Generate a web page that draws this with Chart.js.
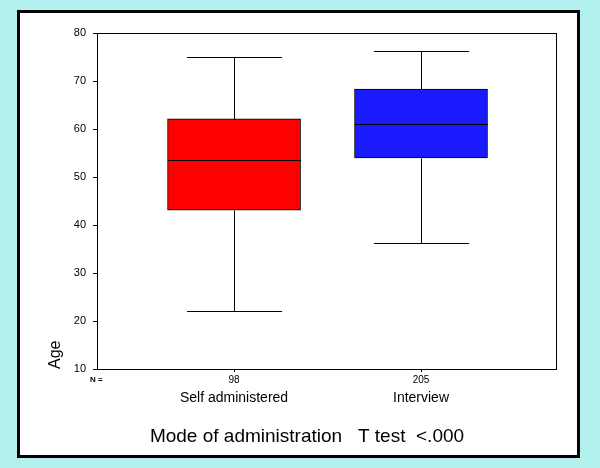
<!DOCTYPE html>
<html>
<head>
<meta charset="utf-8">
<script src="https://cdn.jsdelivr.net/npm/chart.js@4"></script>
<style>
  html, body { margin: 0; padding: 0; width: 600px; height: 468px; overflow: hidden; background: #b3f1ef; }
  #panel { position: absolute; left: 17px; top: 10px; width: 557px; height: 442px; border: 3px solid #000; background: #fff; }
  canvas { display: block; }
</style>
</head>
<body>
<div id="panel"><canvas id="chart" width="557" height="442"></canvas></div>
<script>
/* ── Box plot: age by mode of administration ── */

// ── Data ───────────────────────────────────────────────────────────────────
const groups      = ["Self administered", "Interview"];
const nLabels     = ["98", "205"];
const positions   = [1, 2];
const whiskerLow  = [22, 36.2];
const q1          = [43.1, 54];
const median      = [53.5, 61];
const q3          = [62.1, 68.3];
const whiskerHigh = [75, 76.2];
const yTicks      = [10, 20, 30, 40, 50, 60, 70, 80];
const boxColors   = ["#ff0000", "#1a1aff"];

const FONT = "'Liberation Sans', Arial, sans-serif";
Chart.defaults.font.family = FONT;
Chart.defaults.color = "#000";

// ── Whiskers, medians, frame and extra text ────────────────────────────────
const boxExtras = {
  id: "boxExtras",
  afterDatasetsDraw(chart) {
    const { ctx, chartArea: a, scales: { x, y } } = chart;
    const px = (v) => Math.round(y.getPixelForValue(v)) + 0.5;
    const seg = (x1, y1, x2, y2) => {
      ctx.beginPath(); ctx.moveTo(x1, y1); ctx.lineTo(x2, y2); ctx.stroke();
    };
    ctx.save();
    ctx.strokeStyle = "#000";
    ctx.lineWidth = 1;
    positions.forEach((p, i) => {
      const cx = Math.round(x.getPixelForValue(p)) + 0.5;
      const halfBox = 66.5, halfCap = 47.5;
      seg(cx, px(whiskerHigh[i]), cx, px(q3[i]));
      seg(cx, px(q1[i]), cx, px(whiskerLow[i]));
      seg(cx - halfCap, px(whiskerHigh[i]), cx + halfCap, px(whiskerHigh[i]));
      seg(cx - halfCap, px(whiskerLow[i]), cx + halfCap, px(whiskerLow[i]));
      seg(cx - halfBox, px(median[i]), cx + halfBox, px(median[i]));
    });
    ctx.strokeRect(a.left + 0.5, a.top + 0.5, a.right - a.left, a.bottom - a.top);

    // group names under the N counts
    ctx.fillStyle = "#000";
    ctx.textAlign = "center";
    ctx.textBaseline = "middle";
    ctx.font = "14px " + FONT;
    groups.forEach((g, i) => ctx.fillText(g, x.getPixelForValue(positions[i]), 385));

    // "N =" marker
    ctx.font = "bold 8px " + FONT;
    ctx.textAlign = "left";
    ctx.fillText("N =", 70, 367);

    // bottom title
    ctx.font = "19px " + FONT;
    ctx.textAlign = "center";
    ctx.fillText("Mode of administration   T test  <.000", 287, 424);
    ctx.restore();
  },
};

// ── Chart ──────────────────────────────────────────────────────────────────
new Chart(document.getElementById("chart"), {
  type: "bar",
  data: {
    datasets: [{
      data: positions.map((p, i) => ({ x: p, y: [q1[i], q3[i]] })),
      backgroundColor: boxColors,
      borderColor: "#000",
      borderWidth: 1,
      borderSkipped: false,
      barThickness: 133,
    }],
  },
  options: {
    responsive: false,
    animation: false,
    devicePixelRatio: 1,
    layout: { padding: { top: 20, right: 21, left: 0, bottom: 0 } },
    plugins: { legend: { display: false }, tooltip: { enabled: false } },
    scales: {
      x: {
        type: "linear",
        min: 0.267,
        max: 2.722,
        offset: false,
        grid: { display: true, drawOnChartArea: false, offset: false, tickLength: 3, color: "#000" },
        border: { display: true, color: "#000", width: 1 },
        afterBuildTicks: (s) => { s.ticks = positions.map((v) => ({ value: v })); },
        afterFit: (s) => { s.height = 86; },
        ticks: {
          autoSkip: false,
          maxRotation: 0,
          padding: 2,
          font: { size: 10 },
          callback: (v) => nLabels[positions.indexOf(v)],
        },
      },
      y: {
        min: 10,
        max: 80,
        grid: { display: true, drawOnChartArea: false, tickLength: 4, color: "#000" },
        border: { display: true, color: "#000", width: 1 },
        afterBuildTicks: (s) => { s.ticks = yTicks.map((v) => ({ value: v })); },
        afterFit: (s) => { s.width = 77; },
        ticks: { padding: 7, font: { size: 11 } },
        title: {
          display: true,
          text: "Age",
          align: "start",
          font: { size: 16 },
          padding: { top: 26, bottom: 0 },
        },
      },
    },
  },
  plugins: [boxExtras],
});
</script>
</body>
</html>
